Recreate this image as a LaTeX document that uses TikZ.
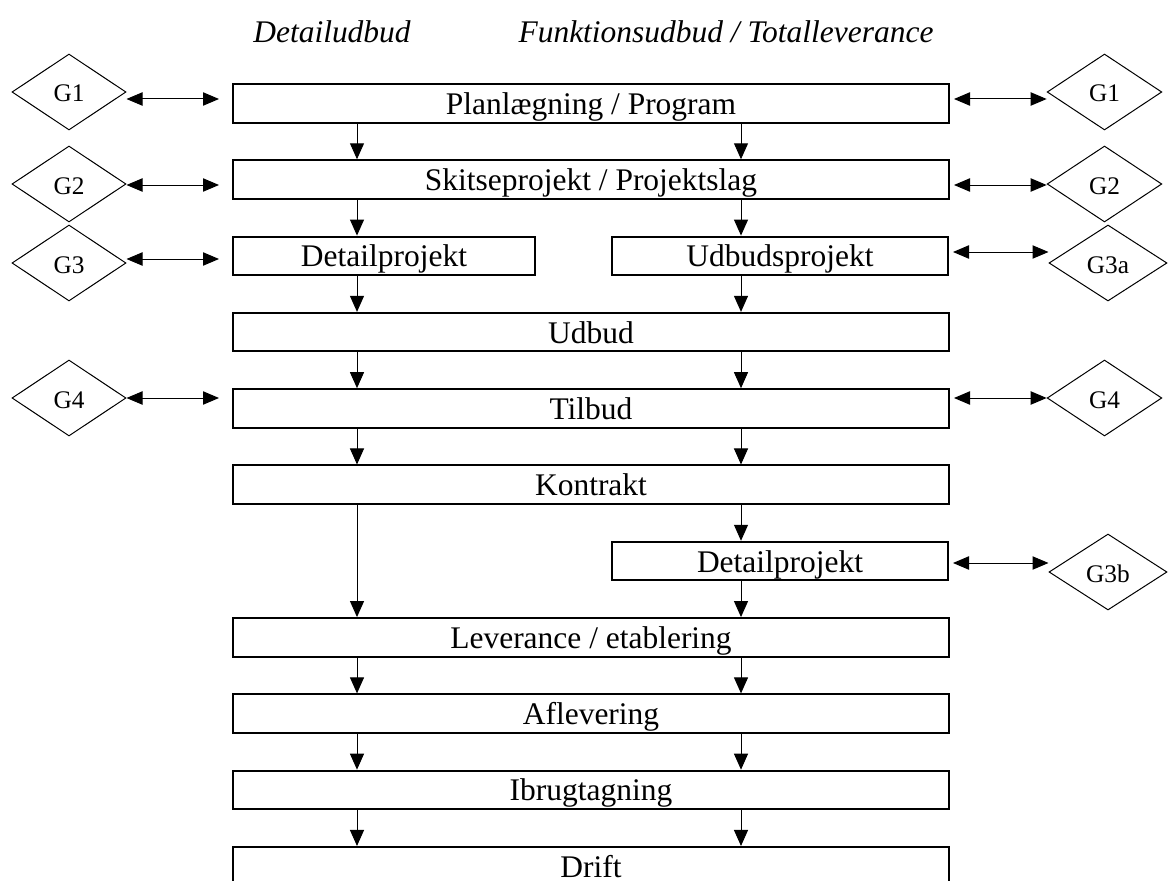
\documentclass[tikz,border=0pt]{standalone}
\usepackage{fontspec}
\setmainfont{Liberation Serif}
\usetikzlibrary{shapes.geometric,arrows.meta,calc}
\begin{document}
\begin{tikzpicture}[x=0.75pt,y=-0.75pt,
  stage/.style={draw,line width=1.5pt,rectangle,inner sep=0pt,minimum height=28.9pt,
    text height=18pt,text depth=1.5pt,font=\fontsize{23.6}{28}\selectfont},
  wide/.style={stage,minimum width=537pt},
  part/.style={stage,minimum width=#1},
  gate/.style={draw,line width=0.75pt,diamond,aspect=1.5,inner sep=0pt,
    minimum width=#1,minimum height=57pt,text height=15pt,text depth=0pt,
    font=\fontsize{19}{22}\selectfont},
  gate/.default=85.5pt,
  flow/.style={line width=0.75pt,-{Triangle[length=12pt,width=10.5pt]}},
  link/.style={line width=0.75pt,{Triangle[length=12pt,width=10pt]}-{Triangle[length=12pt,width=10pt]}},
  head/.style={font=\fontsize{23.6}{28}\selectfont\itshape}
]
\useasboundingbox (0,0) rectangle (1171,881);

% column headings
\node[head] (hd) at (332,32) {Detailudbud};
\node[head] (hf) at (726,32) {Funktionsudbud / Totalleverance};

% process stages
\node[wide] (plan)     at (591,103.25) {Planlægning / Program};
\node[wide] (skitse)   at (591,179.55) {Skitseprojekt / Projektslag};
\node[part=226.5pt] (detA) at (384,255.85) {Detailprojekt};
\node[part=252pt]   (udbp) at (780,255.85) {Udbudsprojekt};
\node[wide] (udbud)    at (591,332.15) {Udbud};
\node[wide] (tilbud)   at (591,408.45) {Tilbud};
\node[wide] (kontrakt) at (591,484.75) {Kontrakt};
\node[part=252pt]   (detB) at (780,561.05) {Detailprojekt};
\node[wide] (lev)      at (591,637.35) {Leverance / etablering};
\node[wide] (afl)      at (591,713.65) {Aflevering};
\node[wide] (ibrug)    at (591,789.95) {Ibrugtagning};
\node[wide] (drift)    at (591,866.25) {Drift};

% gates
\node[gate] (g1l) at (69,92)  {G1};
\node[gate] (g2l) at (69,184) {G2};
\node[gate] (g3l) at (69,263) {G3};
\node[gate] (g4l) at (69,398) {G4};
\node[gate=86pt] (g1r) at (1104.5,92)  {G1};
\node[gate=86pt] (g2r) at (1104.5,184) {G2};
\node[gate=88.5pt] (g3a) at (1108,263) {G3a};
\node[gate=86pt] (g4r) at (1104.5,398) {G4};
\node[gate=88.5pt] (g3b) at (1108,572) {G3b};

% gate links, left side
\coordinate (l1) at ($(g1l.east)+(0,7)$);
\coordinate (l2) at ($(g2l.east)+(0,1)$);
\coordinate (l3) at ($(g3l.east)+(0,-4)$);
\coordinate (l4) at (g4l.east);
\draw[link,shorten >=9.75pt] (l1) -- (l1 -| plan.west);
\draw[link,shorten >=9.75pt] (l2) -- (l2 -| skitse.west);
\draw[link,shorten >=9.75pt] (l3) -- (l3 -| detA.west);
\draw[link,shorten >=9.75pt] (l4) -- (l4 -| tilbud.west);

% gate links, right side
\coordinate (r1) at ($(g1r.west)+(0,7)$);
\coordinate (r2) at ($(g2r.west)+(0,1)$);
\coordinate (r3) at ($(g3a.west)+(0,-11)$);
\coordinate (r4) at (g4r.west);
\coordinate (r5) at ($(g3b.west)+(0,-9)$);
\draw[link,shorten <=3pt] (r1 -| plan.east) -- (r1);
\draw[link,shorten <=3pt] (r2 -| skitse.east) -- (r2);
\draw[link,shorten <=3pt] (r3 -| udbp.east) -- (r3);
\draw[link,shorten <=3pt] (r4 -| tilbud.east) -- (r4);
\draw[link,shorten <=3pt] (r5 -| detB.east) -- (r5);

% flow columns
\coordinate (cl) at (357,0);
\coordinate (cr) at (741,0);
\foreach \a/\b/\c in {plan/skitse/cl, plan/skitse/cr,
    skitse/detA/cl, skitse/udbp/cr, detA/udbud/cl, udbp/udbud/cr,
    udbud/tilbud/cl, udbud/tilbud/cr, tilbud/kontrakt/cl, tilbud/kontrakt/cr,
    kontrakt/lev/cl, kontrakt/detB/cr, detB/lev/cr,
    lev/afl/cl, lev/afl/cr, afl/ibrug/cl, afl/ibrug/cr,
    ibrug/drift/cl, ibrug/drift/cr}
  \draw[flow] (\a.south -| \c) -- (\b.north -| \c);
\end{tikzpicture}
\end{document}
